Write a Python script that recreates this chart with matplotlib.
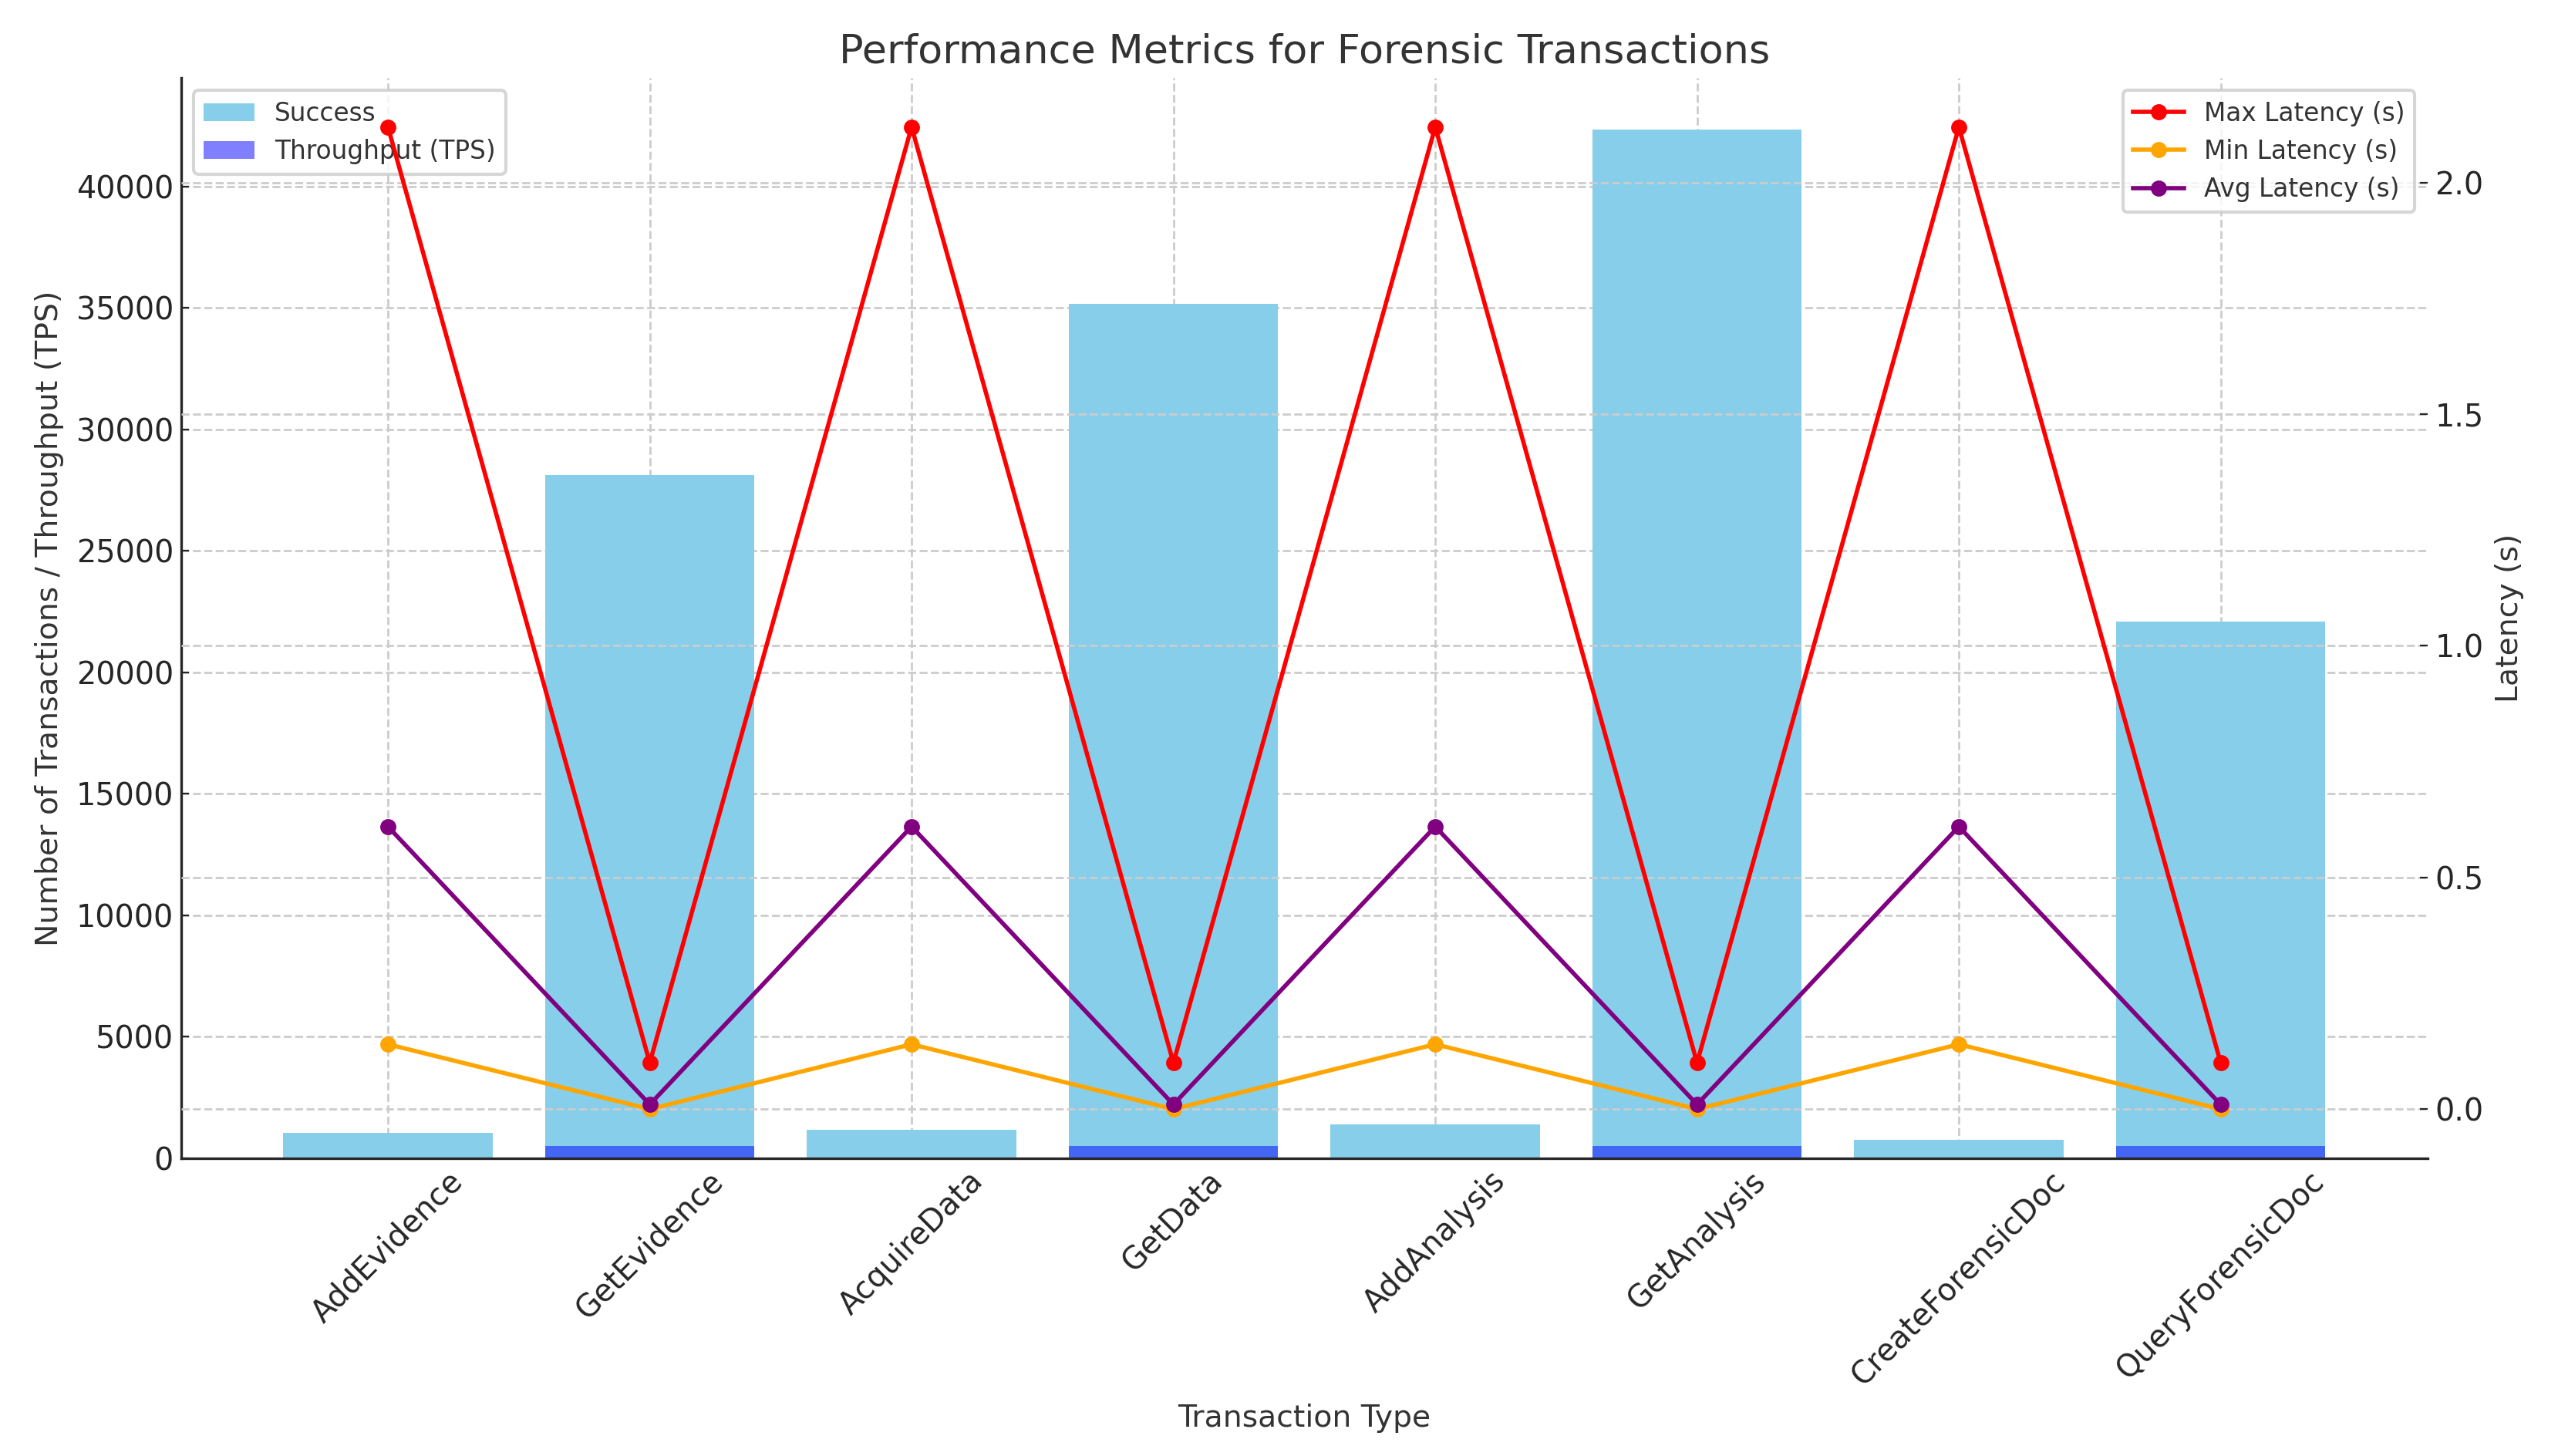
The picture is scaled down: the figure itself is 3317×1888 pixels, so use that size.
import matplotlib
matplotlib.use("Agg")
import matplotlib.pyplot as plt
import numpy as np

categories = ['AddEvidence', 'GetEvidence', 'AcquireData', 'GetData',
              'AddAnalysis', 'GetAnalysis', 'CreateForensicDoc', 'QueryForensicDoc']
success = [1050, 28120, 1170, 35170, 1390, 42350, 760, 22080]
throughput = [30, 500, 30, 500, 30, 500, 30, 500]
max_latency = [2.12, 0.10, 2.12, 0.10, 2.12, 0.10, 2.12, 0.10]
min_latency = [0.14, 0.00, 0.14, 0.00, 0.14, 0.00, 0.14, 0.00]
avg_latency = [0.61, 0.01, 0.61, 0.01, 0.61, 0.01, 0.61, 0.01]

TXT = '#333333'
plt.rcParams.update({
    'font.family': ['DejaVu Sans'],
    'text.color': TXT,
    'axes.labelcolor': TXT,
    'xtick.color': '#262626',
    'ytick.color': '#262626',
    'xtick.direction': 'in',
    'ytick.direction': 'in',
    'axes.edgecolor': '#262626',
    'axes.linewidth': 1.2,
    'legend.edgecolor': '#cccccc',
})

fig = plt.figure(figsize=(16.585, 9.44), dpi=200)
ax1 = fig.add_axes([0.0708, 0.2045, 0.8782, 0.742])
x = np.arange(len(categories))

ax1.bar(x, success, width=0.8, color='skyblue', label='Success')
ax1.bar(x, throughput, width=0.8, color='blue', alpha=0.5, label='Throughput (TPS)')
ax1.set_xticks(x)
ax1.set_xticklabels(categories, rotation=45, ha='center')
ax1.set_xlabel('Transaction Type', fontsize=14.2, labelpad=5.5)
ax1.set_ylabel('Number of Transactions / Throughput (TPS)', fontsize=14.2, labelpad=5.5)
ax1.tick_params(labelsize=14.3)
ax1.grid(True, linestyle='--', color='#cccccc', linewidth=1.0)
ax1.set_axisbelow(True)
for s in ['top', 'right']:
    ax1.spines[s].set_visible(False)

ax2 = ax1.twinx()
ax2.plot(x, max_latency, color='red', marker='o', linewidth=2, markersize=6.5, label='Max Latency (s)')
ax2.plot(x, min_latency, color='orange', marker='o', linewidth=2, markersize=6.5, label='Min Latency (s)')
ax2.plot(x, avg_latency, color='purple', marker='o', linewidth=2, markersize=6.5, label='Avg Latency (s)')
ax2.set_ylabel('Latency (s)', fontsize=14.2, labelpad=5)
ax2.tick_params(labelsize=14.3)
ax2.grid(True, linestyle='--', color='#cccccc', linewidth=1.0)
for s in ['top', 'right', 'left', 'bottom']:
    ax2.spines[s].set_visible(False)

l1 = ax1.legend(loc='upper left', fontsize=11.8)
l2 = ax2.legend(loc='upper right', fontsize=11.8)
for lg in (l1, l2):
    lg.get_frame().set_linewidth(1.5)

ax1.set_title('Performance Metrics for Forensic Transactions', fontsize=18.9, color=TXT, pad=7)

fig.savefig('out.png', dpi=200)
